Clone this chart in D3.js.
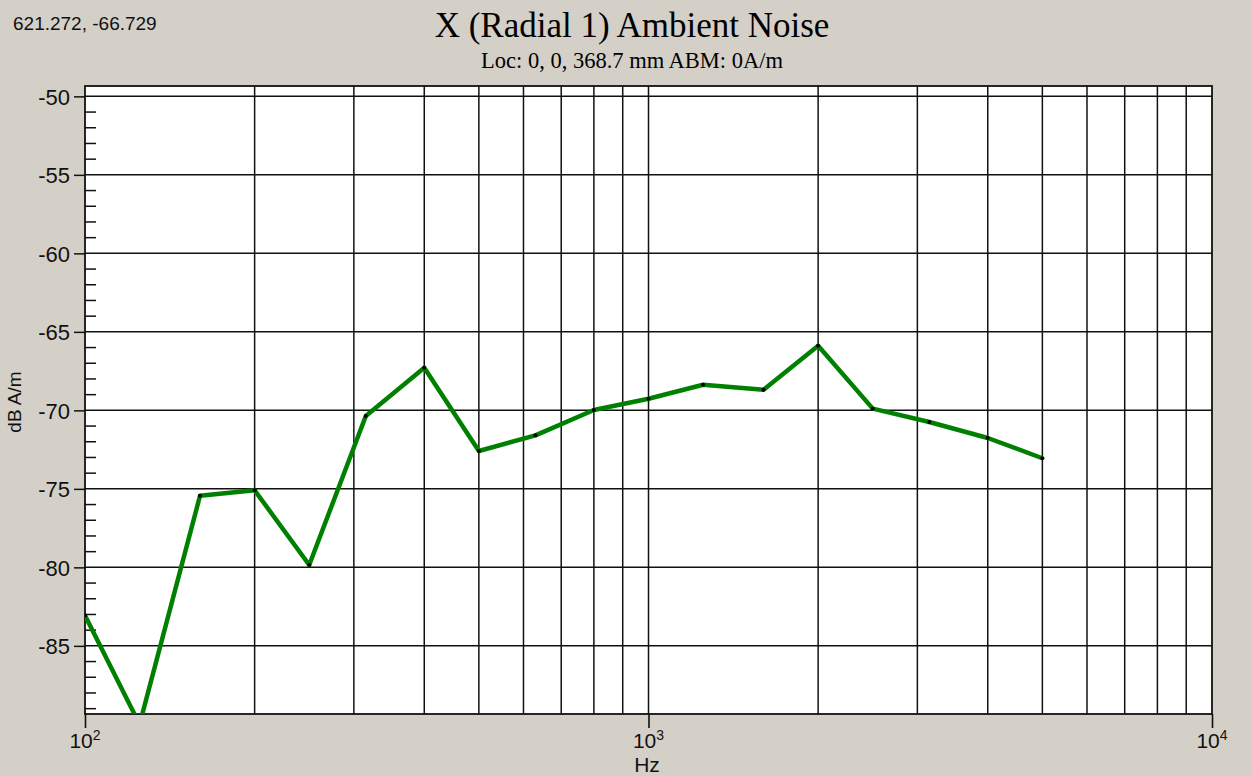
<!DOCTYPE html>
<html>
<head>
<meta charset="utf-8">
<script src="https://cdn.jsdelivr.net/npm/d3@7"></script>
<style>
  body { margin: 0; background: #d4d0c8; }
  svg { display: block; }
</style>
</head>
<body>
<svg id="chart" width="1252" height="776"></svg>
<script>
// one-third octave band centres and measured level
const freqs = [100, 125, 160, 200, 250, 315, 400, 500, 630, 800, 1000, 1250, 1600, 2000, 2500, 3150, 4000, 5000]
const levels = [-83.07, -90.0, -75.44, -75.09, -79.85, -70.36, -67.28, -72.59, -71.59, -69.98, -69.26, -68.37, -68.68, -65.88, -69.89, -70.74, -71.76, -73.05]

const yMajor = [-85, -80, -75, -70, -65, -60, -55, -50]
const yMinor = d3.range(-89, -49, 1)
const decades = [100, 1000, 10000]
const decadeExp = ['2', '3', '4']
const xGrid = [200, 300, 400, 500, 600, 700, 800, 900, 1000, 2000, 3000, 4000, 5000, 6000, 7000, 8000, 9000]

const chartTitle = 'X (Radial 1) Ambient Noise'
const chartSubtitle = 'Loc: 0, 0, 368.7 mm ABM: 0A/m'
const cursorText = '621.272, -66.729'

const plotLeft = 85
const plotRight = 1212
const plotTop = 86
const plotBottom = 714

const svg = d3.select('#chart')

const x = d3.scaleLog().domain([100, 10000]).range([plotLeft, plotRight])
const y = d3.scaleLinear().domain([-89.34, -49.34]).range([plotBottom, plotTop])

svg.append('rect')
  .attr('width', 1252)
  .attr('height', 776)
  .attr('fill', '#d4d0c8')

// plot background
svg.append('rect')
  .attr('x', plotLeft)
  .attr('y', plotTop)
  .attr('width', plotRight - plotLeft)
  .attr('height', plotBottom - plotTop)
  .attr('fill', '#ffffff')

svg.append('clipPath')
  .attr('id', 'plot-clip')
  .append('rect')
  .attr('x', plotLeft)
  .attr('y', plotTop)
  .attr('width', plotRight - plotLeft)
  .attr('height', plotBottom - plotTop)

// grid
svg.append('g')
  .selectAll('line')
  .data(xGrid)
  .join('line')
  .attr('x1', d => x(d))
  .attr('x2', d => x(d))
  .attr('y1', plotTop)
  .attr('y2', plotBottom)
  .attr('stroke', '#111')
  .attr('stroke-width', 1.5)

svg.append('g')
  .selectAll('line')
  .data(yMajor)
  .join('line')
  .attr('x1', plotLeft)
  .attr('x2', plotRight)
  .attr('y1', d => y(d))
  .attr('y2', d => y(d))
  .attr('stroke', '#111')
  .attr('stroke-width', 1.5)

// minor ticks inside the left edge
svg.append('g')
  .selectAll('line')
  .data(yMinor.filter(d => d % 5 !== 0))
  .join('line')
  .attr('x1', plotLeft)
  .attr('x2', plotLeft + 11)
  .attr('y1', d => y(d))
  .attr('y2', d => y(d))
  .attr('stroke', '#111')
  .attr('stroke-width', 1.5)

// left axis, major ticks outside
const yAxis = d3.axisLeft(y)
  .tickValues(yMajor)
  .tickSize(11)
  .tickPadding(4)
  .tickFormat(d => String(d))

const gy = svg.append('g')
  .attr('transform', `translate(${plotLeft},0)`)
  .call(yAxis)
gy.select('.domain').remove()
gy.selectAll('.tick line').attr('stroke', '#111').attr('stroke-width', 1.5)
gy.selectAll('.tick text')
  .attr('font-family', 'Liberation Sans, Arial, sans-serif')
  .attr('font-size', '22px')
  .attr('fill', '#111')
  .attr('dy', '0.36em')

// bottom axis, decade ticks only
const xAxis = d3.axisBottom(x)
  .tickValues(decades)
  .tickSize(14)
  .tickFormat('')

const gx = svg.append('g')
  .attr('transform', `translate(0,${plotBottom})`)
  .call(xAxis)
gx.select('.domain').remove()
gx.selectAll('.tick line').attr('stroke', '#111').attr('stroke-width', 1.6)

const decadeLabels = svg.append('g')
  .selectAll('text')
  .data(decades)
  .join('text')
  .attr('x', d => x(d))
  .attr('y', 748)
  .attr('text-anchor', 'middle')
  .attr('font-family', 'Liberation Sans, Arial, sans-serif')
  .attr('font-size', '21px')
  .attr('fill', '#111')

decadeLabels.append('tspan').text('10')
decadeLabels.append('tspan')
  .attr('font-size', '14px')
  .attr('dy', '-8')
  .text((d, i) => decadeExp[i])

// frame
svg.append('rect')
  .attr('x', plotLeft)
  .attr('y', plotTop)
  .attr('width', plotRight - plotLeft)
  .attr('height', plotBottom - plotTop)
  .attr('fill', 'none')
  .attr('stroke', '#111')
  .attr('stroke-width', 1.8)

// series
const pts = freqs.map((f, i) => [f, levels[i]])

const plot = svg.append('g').attr('clip-path', 'url(#plot-clip)')

plot.append('path')
  .datum(pts)
  .attr('d', d3.line().x(d => x(d[0])).y(d => y(d[1])))
  .attr('fill', 'none')
  .attr('stroke', '#008000')
  .attr('stroke-width', 4.5)
  .attr('stroke-linejoin', 'round')

plot.selectAll('circle')
  .data(pts)
  .join('circle')
  .attr('cx', d => x(d[0]))
  .attr('cy', d => y(d[1]))
  .attr('r', 2)
  .attr('fill', '#000')

// texts
svg.append('text')
  .attr('x', 13)
  .attr('y', 30)
  .attr('font-family', 'Liberation Sans, Arial, sans-serif')
  .attr('font-size', '19px')
  .attr('fill', '#111')
  .text(cursorText)

svg.append('text')
  .attr('x', 632)
  .attr('y', 37)
  .attr('text-anchor', 'middle')
  .attr('font-family', 'Liberation Serif, Times New Roman, serif')
  .attr('font-size', '35px')
  .attr('fill', '#000')
  .text(chartTitle)

svg.append('text')
  .attr('x', 632)
  .attr('y', 68)
  .attr('text-anchor', 'middle')
  .attr('font-family', 'Liberation Serif, Times New Roman, serif')
  .attr('font-size', '22.5px')
  .attr('fill', '#000')
  .text(chartSubtitle)

svg.append('text')
  .attr('transform', 'translate(21,402) rotate(-90)')
  .attr('text-anchor', 'middle')
  .attr('font-family', 'Liberation Sans, Arial, sans-serif')
  .attr('font-size', '19px')
  .attr('fill', '#111')
  .text('dB A/m')

svg.append('text')
  .attr('x', 647)
  .attr('y', 772)
  .attr('text-anchor', 'middle')
  .attr('font-family', 'Liberation Sans, Arial, sans-serif')
  .attr('font-size', '21px')
  .attr('fill', '#111')
  .text('Hz')
</script>
</body>
</html>
